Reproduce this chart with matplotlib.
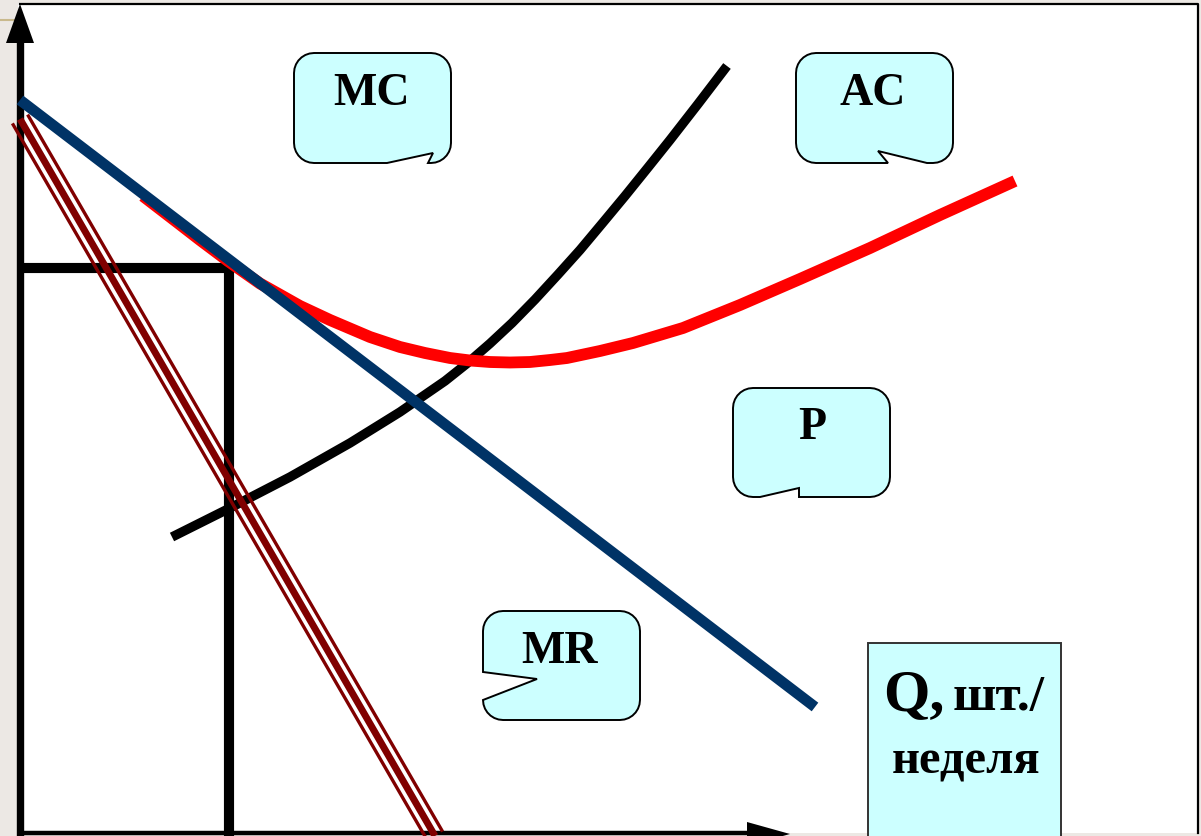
import numpy as np
import matplotlib
matplotlib.use("Agg")
import matplotlib.pyplot as plt
from matplotlib import transforms as mtransforms
from matplotlib.patches import Polygon, Rectangle

# ---------------- data (Q, P in schematic units) ----------------
P_q = [0.0, 79.5]            # demand / price line
P_p = [73.2, 12.5]

MR_q = [0.0, 41.5]           # marginal revenue
MR_p = [71.3, -0.4]

MC_q = [15.2, 21.0, 27.0, 33.0, 38.0, 42.5, 44.7, 47.0, 49.2, 51.5, 53.8, 56.0,
        58.3, 60.5, 62.8, 65.0, 67.8, 70.7]
MC_p = [29.5, 32.4, 35.5, 38.9, 42.0, 45.1, 46.85, 48.85, 50.9, 53.25, 55.75, 58.2,
        60.95, 63.6, 66.45, 69.2, 72.8, 76.6]

AC_q = [12.3, 16.0, 18.0, 20.8, 24.0, 28.0, 31.0, 35.0, 38.0, 40.5, 43.0, 45.0, 47.0,
        49.0, 51.0, 53.0, 54.7, 58.0, 61.3, 66.3, 72.0, 78.0, 85.0, 92.0, 99.5]
AC_p = [63.6, 60.75, 59.2, 57.1, 54.85, 52.6, 51.2, 49.5, 48.5, 47.9, 47.4, 47.15, 47.0,
        46.95, 47.0, 47.2, 47.4, 48.1, 48.9, 50.4, 52.7, 55.3, 58.4, 61.7, 65.1]

Q_opt = 20.9                 # optimum quantity (vertical guide)
P_opt = 56.4                 # optimum price (horizontal guide)

labels = ["MC", "AC", "P", "MR"]

# ---------------- figure ----------------
W, H = 1201, 836
fig = plt.figure(figsize=(W / 100, H / 100), dpi=100)
fig.patch.set_facecolor("#ece8e4")
ax = fig.add_axes([0, 0, 1, 1])
ax.set_xlim(-2.0, 118.1)
ax.set_ylim(-0.4, 83.2)
ax.axis("off")
ax.patch.set_alpha(0)

pxT = mtransforms.Affine2D().scale(1, -1).translate(0, H)   # pixel coords, y down
SERIF = ["Liberation Serif", "DejaVu Serif"]

# white slide area with top/right border
ax.add_patch(Rectangle((18, 3), 1181, 830, transform=pxT, facecolor="white",
                       edgecolor="none", zorder=0, clip_on=False))
ax.plot([20, 1198, 1198], [4, 4, 833], color="black", lw=1.6, transform=pxT,
        clip_on=False, zorder=1)
# small decorative line at top-left
ax.plot([0, 14], [20, 20], color="#c9b98c", lw=1.5, transform=pxT, clip_on=False)

# axes arrows
ax.plot([0, 0], [-0.4, 79.0], color="black", lw=5.3, solid_capstyle="butt", zorder=2)
ax.add_patch(Polygon([[6, 43], [34, 43], [20, 4]], closed=True, transform=pxT,
                     facecolor="black", edgecolor="none", zorder=2))
ax.plot([0, 73.0], [-0.1, -0.1], color="black", lw=3.2, solid_capstyle="butt", zorder=2)
ax.add_patch(Polygon([[747, 822], [747, 846], [790, 834]], closed=True, transform=pxT,
                     facecolor="black", edgecolor="none", zorder=2, clip_on=False))

# optimum guides
ax.plot([0, Q_opt, Q_opt], [P_opt, P_opt, -0.4], color="black", lw=7.3,
        solid_joinstyle="miter", solid_capstyle="butt", zorder=2)

# curves
ax.plot(MC_q, MC_p, color="black", lw=6.8, solid_capstyle="butt",
        solid_joinstyle="round", zorder=3)
ax.plot(AC_q, AC_p, color="#ff0000", lw=8.5, solid_capstyle="butt",
        solid_joinstyle="round", zorder=4)
ax.plot(P_q, P_p, color="#003366", lw=7.8, solid_capstyle="butt", zorder=5)

# MR drawn as triple line
mr_col = "#800000"
ax.plot(MR_q, MR_p, color=mr_col, lw=5, solid_capstyle="butt", zorder=6)
for s in (-1, 1):
    tr = mtransforms.offset_copy(ax.transData, fig, x=7.6 * s, y=4.4 * s, units="dots")
    ax.plot(MR_q, MR_p, color=mr_col, lw=2.4, solid_capstyle="butt", zorder=6, transform=tr)


# ---------------- callouts ----------------
def arc(cx, cy, r, a0, a1, n=8):
    a = np.linspace(np.radians(a0), np.radians(a1), n)
    return [(cx + r * np.cos(t), cy + r * np.sin(t)) for t in a]


def callout(x0, y0, x1, y1, r, bottom_notch=None, left_notch=None):
    pts = []
    pts += arc(x0 + r, y0 + r, r, 180, 270)          # top-left
    pts += arc(x1 - r, y0 + r, r, 270, 360)          # top-right
    pts += arc(x1 - r, y1 - r, r, 0, 90)             # bottom-right
    if bottom_notch:
        pts += bottom_notch
    pts += arc(x0 + r, y1 - r, r, 90, 180)           # bottom-left
    if left_notch:
        pts += left_notch
    ax.add_patch(Polygon(pts, closed=True, transform=pxT, facecolor="#ccffff",
                         edgecolor="black", lw=1.4, zorder=8))


callout(294, 53, 451, 163, 20, bottom_notch=[(428, 163), (433, 153), (387, 163)])
callout(796, 53, 953, 163, 20, bottom_notch=[(927, 163), (878, 151), (888, 163)])
callout(733, 388, 890, 497, 20, bottom_notch=[(799, 497), (799, 488), (760, 497)])
callout(483, 611, 640, 720, 20, left_notch=[(483, 700), (537, 679), (483, 672)])

label_pos = [(372, 105), (873, 105), (812, 439), (560, 663)]
for txt, (x, y) in zip(labels, label_pos):
    ax.text(x, y, txt, transform=pxT, ha="center", va="baseline", fontsize=33,
            fontweight="bold", family=SERIF, zorder=9)

# Q axis label box
ax.add_patch(Rectangle((868, 643), 193, 200, transform=pxT, facecolor="#ccffff",
                       edgecolor="#333333", lw=1.4, zorder=8, clip_on=False))
ax.text(883, 710, "Q,", transform=pxT, ha="left", va="baseline", fontsize=43,
        fontweight="bold", family=SERIF, zorder=9)
ax.text(953, 710, "шт./", transform=pxT, ha="left", va="baseline", fontsize=37,
        fontweight="bold", family=SERIF, zorder=9)
ax.text(892, 773, "неделя", transform=pxT, ha="left", va="baseline", fontsize=35,
        fontweight="bold", family=SERIF, zorder=9)

fig.savefig("out.png", dpi=100, facecolor=fig.get_facecolor())
